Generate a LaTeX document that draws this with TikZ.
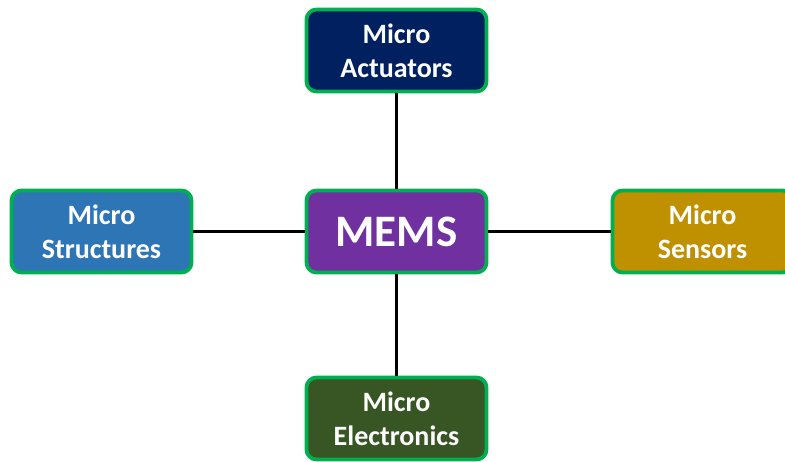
\documentclass[tikz,border=0pt]{standalone}
\usepackage{fontspec}
\setmainfont{Carlito}
\definecolor{boxgreen}{HTML}{00B050}
\definecolor{navy}{HTML}{002060}
\definecolor{memspurple}{HTML}{7030A0}
\definecolor{structblue}{HTML}{2E75B6}
\definecolor{sensgold}{HTML}{BF9000}
\definecolor{elecgreen}{HTML}{375623}
\tikzset{
	mbox/.style={draw=boxgreen, line width=3.8pt, rounded corners=10pt,
		minimum width=180pt, minimum height=82pt, align=center,
		text=white, font=\fontsize{28}{34}\selectfont\bfseries, inner sep=0pt},
	link/.style={line width=3.8pt, black}
}
\begin{document}
\begin{tikzpicture}[x=1pt,y=-1pt]
	\useasboundingbox (0,0) rectangle (785,461);
	% centre and branches
	\node[mbox, fill=memspurple, font=\fontsize{45}{45}\selectfont\bfseries] (mems) at (396.5,231.5) {MEMS};
	\node[mbox, fill=navy] (act) at (396.5,50.5) {Micro\\Actuators};
	\node[mbox, fill=structblue] (str) at (101.5,231.5) {Micro\\Structures};
	\node[mbox, fill=sensgold] (sen) at (702.5,231.5) {Micro\\Sensors};
	\node[mbox, fill=elecgreen] (ele) at (396.5,418.5) {Micro\\Electronics};
	\foreach \n in {act,str,sen,ele}{
		\draw[link] (mems) -- (\n);
	}
\end{tikzpicture}
\end{document}
